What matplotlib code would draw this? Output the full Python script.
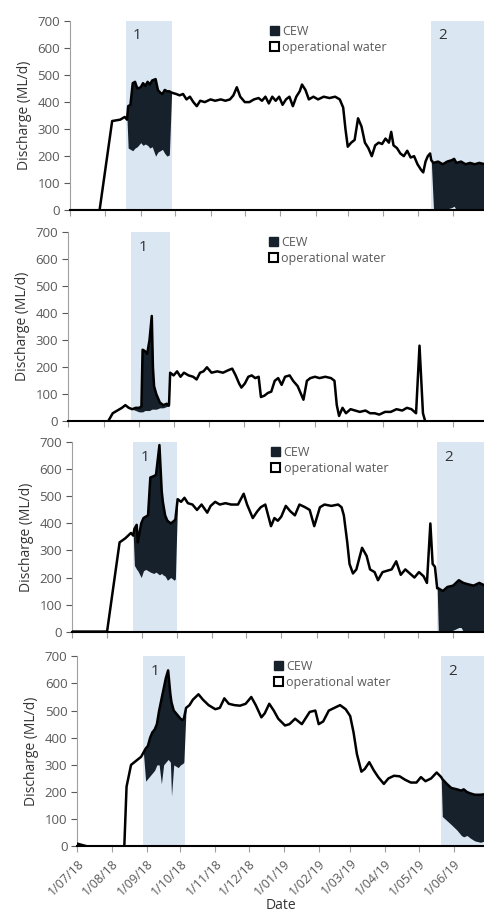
import numpy as np
import pandas as pd
import matplotlib
matplotlib.use("Agg")
import matplotlib.pyplot as plt
from matplotlib.patches import Patch

plt.rcParams['font.family'] = ['Open Sans', 'DejaVu Sans']

# --- DATA ---
# panel 1
p1_dates = ["2018-07-01", "2018-07-27", "2018-08-07", "2018-08-14", "2018-08-18", "2018-08-20",
            "2018-08-21", "2018-08-23", "2018-08-25", "2018-08-27", "2018-08-29", "2018-09-01",
            "2018-09-03", "2018-09-05", "2018-09-07", "2018-09-09", "2018-09-11", "2018-09-14",
            "2018-09-16", "2018-09-18", "2018-09-20", "2018-09-22", "2018-09-24", "2018-09-26",
            "2018-09-28", "2018-10-02", "2018-10-05", "2018-10-08", "2018-10-11", "2018-10-14",
            "2018-10-17", "2018-10-20", "2018-10-23", "2018-10-27", "2018-11-01", "2018-11-05",
            "2018-11-10", "2018-11-14", "2018-11-18", "2018-11-21", "2018-11-24", "2018-11-27",
            "2018-12-01", "2018-12-05", "2018-12-09", "2018-12-13", "2018-12-16", "2018-12-19",
            "2018-12-22", "2018-12-25", "2018-12-28", "2018-12-31", "2019-01-03", "2019-01-06",
            "2019-01-09", "2019-01-12", "2019-01-15", "2019-01-18", "2019-01-20", "2019-01-23",
            "2019-01-26", "2019-01-30", "2019-02-03", "2019-02-08", "2019-02-13", "2019-02-18",
            "2019-02-22", "2019-02-25", "2019-02-27", "2019-03-01", "2019-03-04", "2019-03-07",
            "2019-03-10", "2019-03-13", "2019-03-16", "2019-03-19", "2019-03-22", "2019-03-25",
            "2019-03-28", "2019-03-31", "2019-04-03", "2019-04-06", "2019-04-08", "2019-04-10",
            "2019-04-13", "2019-04-16", "2019-04-19", "2019-04-22", "2019-04-25", "2019-04-28",
            "2019-05-01", "2019-05-04", "2019-05-06", "2019-05-08", "2019-05-10", "2019-05-12",
            "2019-05-13", "2019-05-15", "2019-05-19", "2019-05-23", "2019-05-27", "2019-05-31",
            "2019-06-02", "2019-06-04", "2019-06-08", "2019-06-12", "2019-06-16", "2019-06-20",
            "2019-06-24", "2019-06-29"]
p1_total = [0, 0, 330, 335, 345, 335,
            385, 390, 470, 475, 450, 455,
            470, 460, 475, 465, 480, 485,
            445, 435, 430, 445, 440, 440,
            435, 430, 425, 430, 410, 420,
            400, 385, 405, 400, 410, 405,
            410, 405, 410, 425, 455, 420,
            400, 400, 410, 415, 405, 420,
            395, 420, 405, 420, 390, 410,
            420, 385, 420, 440, 465, 445,
            410, 420, 410, 420, 415, 420,
            410, 380, 300, 235, 250, 260,
            340, 310, 250, 230, 200, 240,
            250, 245, 265, 250, 290, 240,
            230, 210, 200, 220, 195, 200,
            170, 150, 140, 180, 200, 210,
            185, 175, 180, 170, 180, 185,
            190, 175, 180, 170, 175, 170,
            175, 170]
p1_oper = [0, 0, 330, 335, 345, 335,
           230, 225, 220, 230, 235, 250,
           240, 245, 240, 230, 235, 200,
           215, 220, 225, 210, 200, 205,
           435, 430, 425, 430, 410, 420,
           400, 385, 405, 400, 410, 405,
           410, 405, 410, 425, 455, 420,
           400, 400, 410, 415, 405, 420,
           395, 420, 405, 420, 390, 410,
           420, 385, 420, 440, 465, 445,
           410, 420, 410, 420, 415, 420,
           410, 380, 300, 235, 250, 260,
           340, 310, 250, 230, 200, 240,
           250, 245, 265, 250, 290, 240,
           230, 210, 200, 220, 195, 200,
           170, 150, 140, 180, 200, 210,
           185, 0, 5, 0, 5, 10,
           15, 0, 0, 0, 0, 0,
           0, 0]
p1_spans = [("2018-08-19", "2018-09-28"), ("2019-05-13", "2019-07-05")]

# panel 2
p2_dates = ["2018-07-01", "2018-08-05", "2018-08-09", "2018-08-13", "2018-08-17", "2018-08-20",
            "2018-08-23", "2018-08-26", "2018-08-29", "2018-09-01", "2018-09-03", "2018-09-04",
            "2018-09-06", "2018-09-08", "2018-09-10", "2018-09-12", "2018-09-13", "2018-09-14",
            "2018-09-16", "2018-09-19", "2018-09-22", "2018-09-25", "2018-09-27", "2018-09-28",
            "2018-10-01", "2018-10-04", "2018-10-07", "2018-10-10", "2018-10-14", "2018-10-18",
            "2018-10-21", "2018-10-24", "2018-10-27", "2018-10-30", "2018-11-03", "2018-11-08",
            "2018-11-13", "2018-11-18", "2018-11-21", "2018-11-24", "2018-11-27", "2018-11-29",
            "2018-12-02", "2018-12-05", "2018-12-08", "2018-12-11", "2018-12-14", "2018-12-16",
            "2018-12-19", "2018-12-22", "2018-12-25", "2018-12-28", "2018-12-31", "2019-01-03",
            "2019-01-06", "2019-01-10", "2019-01-13", "2019-01-17", "2019-01-20", "2019-01-22",
            "2019-01-25", "2019-01-28", "2019-02-01", "2019-02-05", "2019-02-10", "2019-02-15",
            "2019-02-18", "2019-02-20", "2019-02-22", "2019-02-25", "2019-02-28", "2019-03-04",
            "2019-03-08", "2019-03-12", "2019-03-17", "2019-03-21", "2019-03-25", "2019-03-29",
            "2019-04-03", "2019-04-08", "2019-04-13", "2019-04-18", "2019-04-22", "2019-04-26",
            "2019-04-30", "2019-05-03", "2019-05-06", "2019-05-08", "2019-06-29"]
p2_total = [0, 0, 30, 40, 50, 60,
            50, 45, 50, 50, 55, 265,
            260, 250, 300, 390, 200, 130,
            100, 70, 60, 65, 60, 180,
            170, 185, 165, 180, 170, 165,
            155, 180, 185, 200, 180, 185,
            180, 190, 195, 170, 140, 125,
            140, 165, 170, 160, 165, 90,
            95, 105, 110, 150, 160, 135,
            165, 170, 150, 130, 100, 80,
            150, 160, 165, 160, 165, 160,
            150, 60, 20, 50, 30, 45,
            40, 35, 40, 30, 30, 25,
            35, 35, 45, 40, 50, 45,
            30, 280, 30, 0, 0]
p2_oper = [0, 0, 30, 40, 50, 60,
           50, 45, 40, 35, 35, 35,
           40, 40, 40, 45, 45, 45,
           45, 50, 50, 55, 55, 180,
           170, 185, 165, 180, 170, 165,
           155, 180, 185, 200, 180, 185,
           180, 190, 195, 170, 140, 125,
           140, 165, 170, 160, 165, 90,
           95, 105, 110, 150, 160, 135,
           165, 170, 150, 130, 100, 80,
           150, 160, 165, 160, 165, 160,
           150, 60, 20, 50, 30, 45,
           40, 35, 40, 30, 30, 25,
           35, 35, 45, 40, 50, 45,
           30, 280, 30, 0, 0]
p2_spans = [("2018-08-25", "2018-09-28")]

# panel 3
p3_dates = ["2018-07-01", "2018-08-01", "2018-08-12", "2018-08-17", "2018-08-22", "2018-08-24",
            "2018-08-25", "2018-08-27", "2018-08-28", "2018-08-31", "2018-09-02", "2018-09-04",
            "2018-09-06", "2018-09-08", "2018-09-11", "2018-09-13", "2018-09-16", "2018-09-18",
            "2018-09-19", "2018-09-21", "2018-09-23", "2018-09-26", "2018-09-29", "2018-09-30",
            "2018-10-02", "2018-10-05", "2018-10-08", "2018-10-11", "2018-10-15", "2018-10-19",
            "2018-10-23", "2018-10-28", "2018-10-31", "2018-11-04", "2018-11-08", "2018-11-13",
            "2018-11-18", "2018-11-24", "2018-11-29", "2018-12-02", "2018-12-05", "2018-12-07",
            "2018-12-11", "2018-12-14", "2018-12-18", "2018-12-23", "2018-12-26", "2018-12-29",
            "2019-01-01", "2019-01-05", "2019-01-09", "2019-01-13", "2019-01-17", "2019-01-22",
            "2019-01-26", "2019-01-30", "2019-02-04", "2019-02-08", "2019-02-14", "2019-02-20",
            "2019-02-23", "2019-02-25", "2019-02-28", "2019-03-02", "2019-03-05", "2019-03-08",
            "2019-03-13", "2019-03-17", "2019-03-20", "2019-03-24", "2019-03-27", "2019-03-31",
            "2019-04-04", "2019-04-08", "2019-04-12", "2019-04-16", "2019-04-20", "2019-04-24",
            "2019-04-28", "2019-05-02", "2019-05-06", "2019-05-09", "2019-05-12", "2019-05-14",
            "2019-05-16", "2019-05-18", "2019-05-19", "2019-05-23", "2019-05-27", "2019-06-01",
            "2019-06-06", "2019-06-08", "2019-06-10", "2019-06-14", "2019-06-19", "2019-06-24",
            "2019-06-29"]
p3_total = [0, 0, 330, 345, 365, 355,
            380, 395, 330, 400, 420, 425,
            430, 570, 575, 580, 690, 520,
            480, 430, 410, 400, 410, 415,
            490, 480, 495, 475, 470, 450,
            470, 440, 465, 480, 470, 475,
            470, 470, 510, 470, 440, 420,
            445, 460, 470, 390, 420, 410,
            425, 465, 445, 430, 470, 460,
            450, 390, 460, 470, 465, 470,
            460, 430, 330, 250, 215, 230,
            310, 280, 230, 220, 190, 220,
            225, 230, 260, 210, 230, 215,
            200, 220, 205, 180, 400, 250,
            240, 160, 160, 150, 165, 170,
            190, 185, 180, 175, 170, 180,
            170]
p3_oper = [0, 0, 330, 345, 365, 355,
           245, 230, 225, 200, 225, 230,
           225, 220, 215, 220, 210, 215,
           210, 205, 190, 200, 190, 195,
           490, 480, 495, 475, 470, 450,
           470, 440, 465, 480, 470, 475,
           470, 470, 510, 470, 440, 420,
           445, 460, 470, 390, 420, 410,
           425, 465, 445, 430, 470, 460,
           450, 390, 460, 470, 465, 470,
           460, 430, 330, 250, 215, 230,
           310, 280, 230, 220, 190, 220,
           225, 230, 260, 210, 230, 215,
           200, 220, 205, 180, 400, 250,
           240, 160, 0, 0, 0, 5,
           15, 15, 0, 0, 0, 0,
           0]
p3_spans = [("2018-08-24", "2018-10-01"), ("2019-05-18", "2019-07-05")]

# panel 4
p4_dates = ["2018-07-01", "2018-07-10", "2018-08-12", "2018-08-14", "2018-08-18", "2018-08-24",
            "2018-08-27", "2018-08-29", "2018-08-31", "2018-09-02", "2018-09-04", "2018-09-06",
            "2018-09-08", "2018-09-10", "2018-09-12", "2018-09-14", "2018-09-16", "2018-09-18",
            "2018-09-20", "2018-09-22", "2018-09-23", "2018-09-25", "2018-09-27", "2018-09-29",
            "2018-10-01", "2018-10-03", "2018-10-04", "2018-10-06", "2018-10-09", "2018-10-12",
            "2018-10-17", "2018-10-21", "2018-10-26", "2018-11-01", "2018-11-05", "2018-11-09",
            "2018-11-13", "2018-11-18", "2018-11-23", "2018-11-28", "2018-12-03", "2018-12-07",
            "2018-12-12", "2018-12-15", "2018-12-19", "2018-12-23", "2018-12-27", "2019-01-02",
            "2019-01-06", "2019-01-11", "2019-01-17", "2019-01-24", "2019-01-29", "2019-02-01",
            "2019-02-05", "2019-02-10", "2019-02-15", "2019-02-20", "2019-02-25", "2019-03-01",
            "2019-03-04", "2019-03-07", "2019-03-11", "2019-03-14", "2019-03-18", "2019-03-22",
            "2019-03-26", "2019-03-31", "2019-04-04", "2019-04-09", "2019-04-14", "2019-04-19",
            "2019-04-24", "2019-04-29", "2019-05-03", "2019-05-07", "2019-05-12", "2019-05-17",
            "2019-05-21", "2019-05-22", "2019-05-26", "2019-05-30", "2019-06-04", "2019-06-08",
            "2019-06-10", "2019-06-13", "2019-06-16", "2019-06-20", "2019-06-25", "2019-06-29"]
p4_total = [10, 0, 0, 220, 300, 320,
            330, 345, 360, 370, 400, 420,
            430, 450, 500, 540, 580, 620,
            648, 560, 530, 500, 490, 480,
            470, 465, 470, 510, 520, 540,
            560, 540, 520, 505, 510, 545,
            525, 520, 518, 525, 550, 520,
            475, 490, 525, 500, 470, 445,
            450, 470, 450, 495, 500, 450,
            460, 500, 510, 520, 505, 480,
            420, 340, 275, 285, 310, 280,
            255, 230, 250, 260, 258, 245,
            235, 235, 255, 240, 250, 272,
            255, 248, 230, 215, 210, 205,
            210, 200, 195, 190, 190, 192]
p4_oper = [10, 0, 0, 220, 300, 320,
           330, 345, 240, 250, 260, 270,
           280, 300, 300, 230, 300, 310,
           320, 310, 185, 300, 295, 290,
           300, 305, 310, 510, 520, 540,
           560, 540, 520, 505, 510, 545,
           525, 520, 518, 525, 550, 520,
           475, 490, 525, 500, 470, 445,
           450, 470, 450, 495, 500, 450,
           460, 500, 510, 520, 505, 480,
           420, 340, 275, 285, 310, 280,
           255, 230, 250, 260, 258, 245,
           235, 235, 255, 240, 250, 272,
           255, 110, 95, 80, 60, 40,
           35, 40, 30, 20, 15, 20]
p4_spans = [("2018-08-29", "2018-10-05"), ("2019-05-21", "2019-07-05")]

tick_dates = pd.date_range("2018-07-01", "2019-06-01", freq="MS")
tick_labels = ["1/07/18", "1/08/18", "1/09/18", "1/10/18", "1/11/18", "1/12/18",
               "1/01/19", "1/02/19", "1/03/19", "1/04/19", "1/05/19", "1/06/19"]
span_labels = ["1", "2"]

# --- STYLE ---
CEW_COL = '#16212c'
SHADE = '#dae6f2'
GREY = '#595959'

panels = [
    (p1_dates, p1_total, p1_oper, p1_spans, [0.144, 0.770, 0.856, 0.207]),
    (p2_dates, p2_total, p2_oper, p2_spans, [0.140, 0.539, 0.860, 0.207]),
    (p3_dates, p3_total, p3_oper, p3_spans, [0.148, 0.309, 0.852, 0.207]),
    (p4_dates, p4_total, p4_oper, p4_spans, [0.159, 0.074, 0.841, 0.208]),
]

fig = plt.figure(figsize=(4.85, 9.14), dpi=100)
xmin, xmax = pd.Timestamp("2018-07-01"), pd.Timestamp("2019-06-29")

for i, (dates, total, oper, spans, pos) in enumerate(panels):
    ax = fig.add_axes(pos)
    d = pd.to_datetime(dates)
    for j, (s0, s1) in enumerate(spans):
        ax.axvspan(pd.Timestamp(s0), pd.Timestamp(s1), color=SHADE, lw=0, zorder=0)
        ax.text(pd.Timestamp(s0) + pd.Timedelta(days=10), 645, span_labels[j],
                ha='center', va='center', fontsize=11, color='#333333')
    ax.fill_between(d, oper, total, color=CEW_COL, lw=0, zorder=2)
    ax.plot(d, total, color='black', lw=1.8, zorder=3)

    ax.set_xlim(xmin, xmax)
    ax.set_ylim(0, 700)
    ax.set_yticks(np.arange(0, 701, 100))
    ax.set_xticks(tick_dates)
    ax.spines['top'].set_visible(False)
    ax.spines['right'].set_visible(False)
    ax.spines['left'].set_color('#a0a0a0')
    ax.spines['left'].set_linewidth(0.8)
    ax.spines['bottom'].set_color('black')
    ax.spines['bottom'].set_linewidth(1.5)
    ax.tick_params(axis='y', labelsize=9.5, colors=GREY, length=4, width=0.8, pad=3)
    ax.tick_params(axis='x', colors='#a0a0a0', length=4, width=0.8, labelcolor=GREY)
    ax.set_ylabel("Discharge (ML/d)", fontsize=10, color='#333333', labelpad=4)

    if i == 3:
        ax.set_xticklabels(tick_labels, rotation=45, ha='right', rotation_mode='anchor',
                           fontsize=9)
        ax.set_xlabel("Date", fontsize=10, color='#333333', labelpad=0)
    else:
        ax.set_xticklabels([])

    handles = [Patch(facecolor=CEW_COL, edgecolor=CEW_COL),
               Patch(facecolor='white', edgecolor='black', linewidth=1.5)]
    ax.legend(handles, ["CEW", "operational water"], loc='upper left',
              bbox_to_anchor=(0.455, 1.04), frameon=False, fontsize=9,
              handlelength=0.7, handleheight=0.7, handletextpad=0.3,
              labelspacing=0.25, labelcolor=GREY)

fig.savefig("out.png", dpi=100)
